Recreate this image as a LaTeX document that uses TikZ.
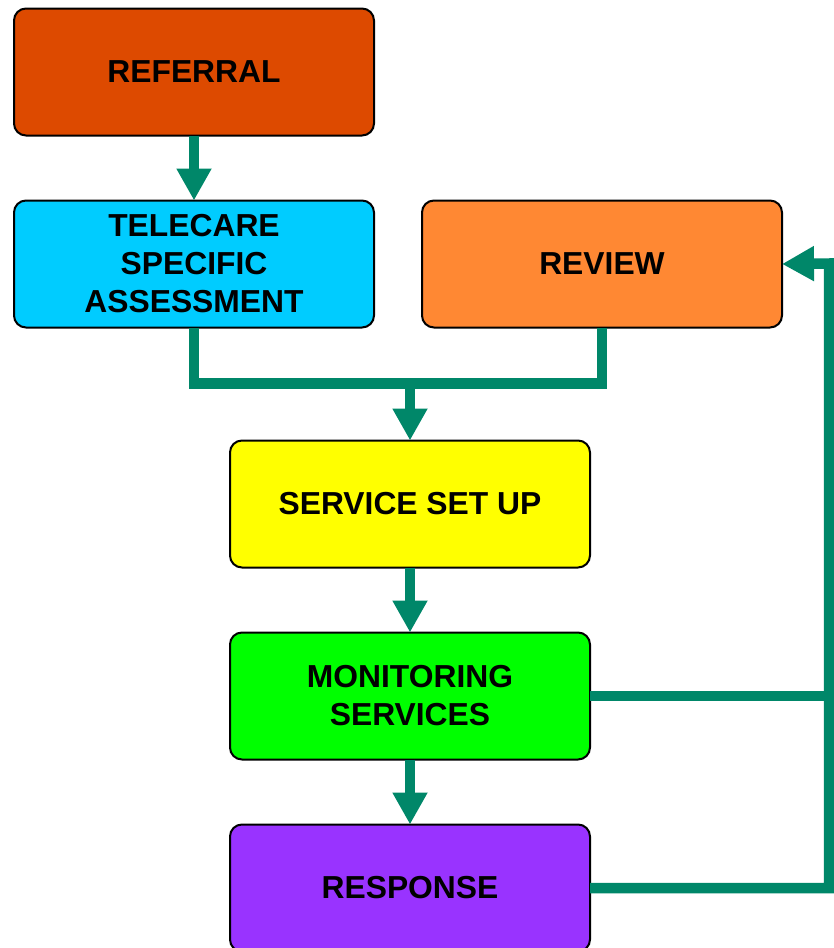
\documentclass[tikz,border=0pt]{standalone}
\usepackage{fontspec}
\setmainfont{Liberation Sans}
\usetikzlibrary{arrows.meta}
\definecolor{cRef}{RGB}{221,74,0}
\definecolor{cTel}{RGB}{0,204,255}
\definecolor{cRev}{RGB}{255,136,51}
\definecolor{cSet}{RGB}{255,255,0}
\definecolor{cMon}{RGB}{0,255,0}
\definecolor{cRes}{RGB}{153,51,255}
\definecolor{cLine}{RGB}{0,135,105}
\tikzset{
  box/.style={draw=black, line width=2pt, rounded corners=12pt, minimum width=360pt,
    minimum height=127pt, outer sep=0pt, align=center,
    font=\fontsize{31.8}{38}\selectfont\bfseries},
  conn/.style={draw=cLine, line width=10.5pt, line join=miter, line cap=butt},
  arr/.style={-{Triangle[width=33pt,length=32pt]}}
}
\begin{document}
\begin{tikzpicture}[x=1pt,y=-1pt]
\useasboundingbox (0,0) rectangle (833,948);
\node[box, fill=cRef] (ref) at (194,72) {REFERRAL};
\node[box, fill=cTel] (tel) at (194,264) {TELECARE\\SPECIFIC\\ASSESSMENT};
\node[box, fill=cRev] (rev) at (602,264) {REVIEW};
\node[box, fill=cSet] (set) at (410,504) {SERVICE SET UP};
\node[box, fill=cMon] (mon) at (410,696) {MONITORING\\SERVICES};
\node[box, fill=cRes] (res) at (410,888) {RESPONSE};
\coordinate (join) at (410,383.5);
\coordinate (rtop) at (829,263.5);
\draw[conn, arr] (ref.south) -- (tel.north);
\draw[conn] (tel.south) |- (join) -| (rev.south);
\draw[conn, arr] (join) -- (set.north);
\draw[conn, arr] (set.south) -- (mon.north);
\draw[conn, arr] (mon.south) -- (res.north);
\draw[conn] (mon.east) -- (mon.east -| rtop);
\draw[conn, arr] (res.east) -| (rtop) -- (rev.east);
\end{tikzpicture}
\end{document}
